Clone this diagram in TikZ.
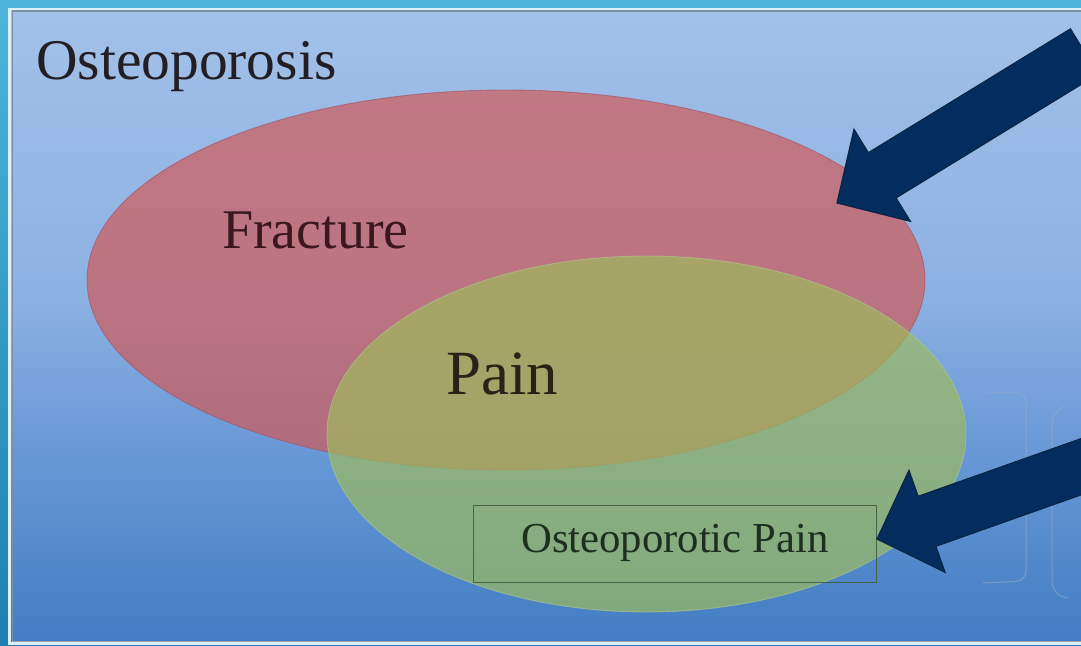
\documentclass[tikz,border=0pt]{standalone}
\usepackage{fontspec}
\setmainfont{Liberation Serif}
\definecolor{frameTop}{RGB}{76,182,218}
\definecolor{frameBot}{RGB}{30,128,176}
\definecolor{bgtop}{RGB}{162,193,233}
\definecolor{bgmid}{RGB}{140,176,226}
\definecolor{bgmid2}{RGB}{104,152,214}
\definecolor{bgbot}{RGB}{66,125,195}
\definecolor{redfill}{RGB}{210,88,84}
\definecolor{redEdge}{RGB}{165,80,95}
\definecolor{greenfill}{RGB}{158,188,92}
\definecolor{greenEdge}{RGB}{175,200,140}
\definecolor{boxEdge}{RGB}{72,100,72}
\definecolor{arrowFill}{RGB}{2,45,94}
\definecolor{arrowEdge}{RGB}{8,38,68}
\definecolor{txtDark}{RGB}{35,30,35}
\definecolor{txtRed}{RGB}{58,24,30}
\definecolor{txtOlive}{RGB}{40,34,24}
\definecolor{txtGreen}{RGB}{30,46,32}
\definecolor{shadowGray}{RGB}{128,142,162}
\definecolor{bracketGray}{RGB}{150,170,200}
\pgfdeclareverticalshading{panelshade}{100bp}{color(0bp)=(bgbot); color(25bp)=(bgbot); color(40bp)=(bgmid2); color(52bp)=(bgmid); color(75bp)=(bgtop); color(100bp)=(bgtop)}
\tikzset{
  label text/.style={inner sep=0pt, anchor=base west},
  block arrow/.style={fill=arrowFill, draw=arrowEdge, line width=1.2pt, line join=miter},
  bracket/.style={draw=bracketGray, line width=1pt, draw opacity=0.6}
}
\begin{document}
\begin{tikzpicture}[x=1pt,y=-1pt]
\useasboundingbox (0,0) rectangle (1081,645);
\clip (0,0) rectangle (1081,645);
% frame
\shade[top color=frameTop, bottom color=frameBot] (0,0) rectangle (1081,645);
\fill[white!80!frameTop] (8,8) rectangle (1100,645);
\shade[shading=panelshade] (11,10) rectangle (1100,641);
\draw[shadowGray, line width=1.6pt] (12.5,641) -- (12.5,11) -- (1100,11);
\draw[shadowGray!80!white, line width=1.6pt] (12,641.5) -- (1100,641.5);
% faint brackets
\draw[bracket, rounded corners=10pt] (983,392) -- (1026,393) -- (1026,581) -- (983,583);
\draw[bracket, rounded corners=16pt] (1068,406) -- (1052,407) -- (1052,597) -- (1068,598);
% ellipses
\fill[redfill, fill opacity=0.68] (506,280) ellipse [x radius=419pt, y radius=190pt];
\draw[redEdge, line width=0.9pt, draw opacity=0.6] (506,280) ellipse [x radius=419pt, y radius=190pt];
\fill[greenfill, fill opacity=0.68] (646.5,434) ellipse [x radius=319.5pt, y radius=178pt];
\draw[greenEdge, line width=0.9pt, draw opacity=0.6] (646.5,434) ellipse [x radius=319.5pt, y radius=178pt];
% texts
\node[label text, text=txtDark, font=\fontsize{57.5}{62}\selectfont] (osteo) at (36,79) {Osteoporosis};
\node[label text, text=txtRed, font=\fontsize{56}{60}\selectfont] (fracture) at (222,248) {Fracture};
\node[label text, text=txtOlive, font=\fontsize{63}{68}\selectfont] (pain) at (446,394) {Pain};
\node[draw=boxEdge, line width=1.4pt, minimum width=403pt, minimum height=77pt, inner sep=0pt, anchor=north west] (box) at (473,505) {};
\node[label text, text=txtGreen, font=\fontsize{42.7}{46}\selectfont] (optext) at (521,552) {Osteoporotic Pain};
% block arrows
\begin{scope}[shift={(837,203)}, rotate=31.5]
\draw[block arrow] (0,0) -- (53,54) -- (53,26.5) -- (290,26.5) -- (290,-26.5) -- (53,-26.5) -- (53,-54) -- cycle;
\end{scope}
\begin{scope}[shift={(877,539)}, rotate=19.5]
\draw[block arrow] (0,0) -- (53,54) -- (53,26.5) -- (320,26.5) -- (320,-26.5) -- (53,-26.5) -- (53,-54) -- cycle;
\end{scope}
\end{tikzpicture}
\end{document}
